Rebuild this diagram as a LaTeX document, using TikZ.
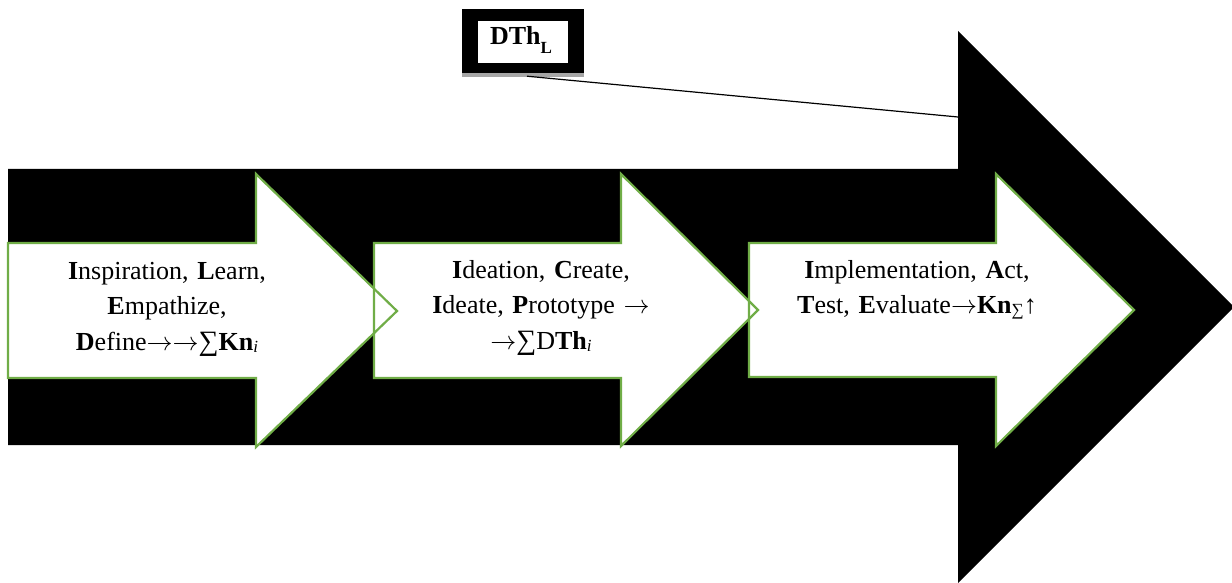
\documentclass[tikz,border=0pt]{standalone}
\usepackage{fontspec}
\usepackage{fix-cm}
\setmainfont{Liberation Serif}
\definecolor{arrowgreen}{HTML}{70AD47}
\definecolor{shadowgray}{HTML}{A6A6A6}
\newcommand{\lowsub}[1]{\raisebox{-2pt}{\fontsize{17}{17}\selectfont #1}}
\newcommand{\ra}{\ensuremath{\rightarrow}}
\tikzset{
  bigarrow/.style={fill=black},
  whitefill/.style={fill=white},
  greenline/.style={draw=arrowgreen, line width=2.2pt, line join=miter},
  steptext/.style={anchor=base, text width=300pt, align=center, inner sep=0pt,
    font=\fontsize{26}{35.5}\selectfont},
  connector/.style={draw=black, line width=1.2pt},
}
\begin{document}
\begin{tikzpicture}[x=1pt,y=-1pt]
\useasboundingbox (0,0) rectangle (1232,583);
% big black arrow
\fill[bigarrow] (8,169) -- (958,169) -- (958,31) -- (1234,307) -- (958,583) -- (958,445) -- (8,445) -- cycle;
% white arrows: fills
\path[whitefill] (8,243) -- (256,243) -- (256,174) -- (397,311) -- (256,447) -- (256,378) -- (8,378) -- cycle;
\path[whitefill] (374,243) -- (621,243) -- (621,174) -- (758,310) -- (621,446) -- (621,378) -- (374,378) -- cycle;
\path[whitefill] (749,243) -- (996,243) -- (996,174) -- (1134,310) -- (996,446) -- (996,377) -- (749,377) -- cycle;
% white arrows: outlines
\draw[greenline] (8,243) -- (256,243) -- (256,174) -- (397,311) -- (256,447) -- (256,378) -- (8,378) -- cycle;
\draw[greenline] (374,243) -- (621,243) -- (621,174) -- (758,310) -- (621,446) -- (621,378) -- (374,378) -- cycle;
\draw[greenline] (749,243) -- (996,243) -- (996,174) -- (1134,310) -- (996,446) -- (996,377) -- (749,377) -- cycle;
% texts
\node[steptext] (t1) at (167,279) {\textbf{I}nspiration, \textbf{L}earn,\\ \textbf{E}mpathize,\\ \textbf{D}efine\ra\ra{\fontsize{28}{28}\selectfont∑}\textbf{Kn}\lowsub{\textit{i}}};
\node[steptext] (t2) at (541,278) {\textbf{I}deation, \textbf{C}reate,\\ \textbf{I}deate, \textbf{P}rototype \ra\\ \ra{\fontsize{28}{28}\selectfont∑}D\textbf{Th}\lowsub{\textit{i}}};
\node[steptext] (t3) at (917,278) {\textbf{I}mplementation, \textbf{A}ct,\\ \textbf{T}est, \textbf{E}valuate\ra\textbf{Kn}\lowsub{∑}↑};
% label box
\fill[shadowgray] (462,73) rectangle (584,77);
\node[fill=black, minimum width=122pt, minimum height=64pt, inner sep=0pt] (dthbox) at (523,41) {};
\node[fill=white, minimum width=90pt, minimum height=42pt, inner sep=0pt] (dthinner) at (523,42) {};
\node[anchor=base, inner sep=0pt, font=\fontsize{26}{30}\selectfont] (dth) at (521,45)
  {\textbf{DTh}\raisebox{-9pt}{\fontsize{17}{17}\selectfont\textbf{L}}};
\coordinate (hit) at (958,117);
\draw[connector] ([xshift=4pt,yshift=-3pt]dthbox.south) -- (hit);
\end{tikzpicture}
\end{document}
